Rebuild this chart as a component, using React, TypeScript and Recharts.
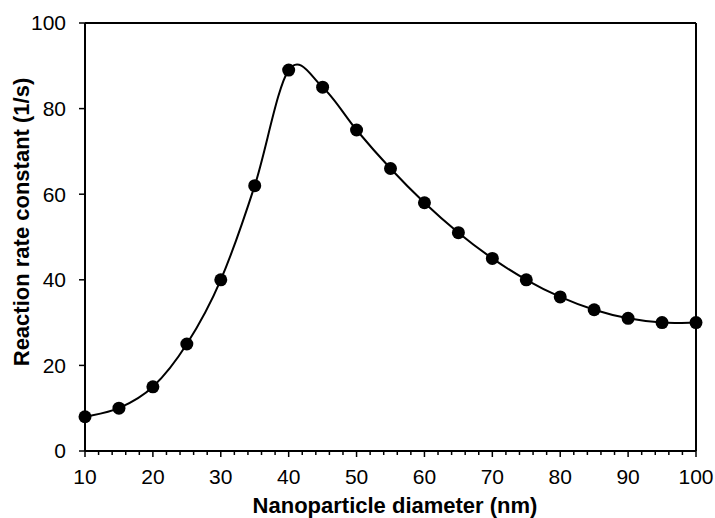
import React from 'react';
import { LineChart, Line, XAxis, YAxis, ReferenceLine, Label } from 'recharts';

const diameters = [10, 15, 20, 25, 30, 35, 40, 45, 50, 55, 60, 65, 70, 75, 80, 85, 90, 95, 100];
const rates = [8, 10, 15, 25, 40, 62, 89, 85, 75, 66, 58, 51, 45, 40, 36, 33, 31, 30, 30];
const xTicks = [10, 12, 14, 16, 18, 20, 22, 24, 26, 28, 30, 32, 34, 36, 38, 40, 42, 44, 46, 48, 50, 52, 54, 56, 58, 60, 62, 64, 66, 68, 70, 72, 74, 76, 78, 80, 82, 84, 86, 88, 90, 92, 94, 96, 98, 100];
const yTicks = [0, 20, 40, 60, 80, 100];
const xTitle = 'Nanoparticle diameter (nm)';
const yTitle = 'Reaction rate constant (1/s)';

const data = diameters.map((d, i) => ({ d, k: rates[i] }));

const FONT = '"Liberation Sans", Arial, sans-serif';

// Excel-like smoothing (Catmull-Rom via cubic Bezier)
const excelSmooth: any = (context: any) => {
  let pts: number[][] = [];
  return {
    areaStart() {},
    areaEnd() {},
    lineStart() { pts = []; },
    point(x: number, y: number) { pts.push([+x, +y]); },
    lineEnd() {
      const n = pts.length;
      if (!n) return;
      context.moveTo(pts[0][0], pts[0][1]);
      for (let i = 0; i < n - 1; i++) {
        const p0 = pts[i - 1] || pts[i];
        const p1 = pts[i];
        const p2 = pts[i + 1];
        const p3 = pts[i + 2] || p2;
        context.bezierCurveTo(
          p1[0] + (p2[0] - p0[0]) / 6, p1[1] + (p2[1] - p0[1]) / 6,
          p2[0] - (p3[0] - p1[0]) / 6, p2[1] - (p3[1] - p1[1]) / 6,
          p2[0], p2[1]
        );
      }
    },
  };
};

const XTick = (props: any) => {
  const { x, y, payload } = props;
  const v = payload.value;
  const major = v % 10 === 0;
  return (
    <g>
      <line x1={x} x2={x} y1={y} y2={y + (major ? 6 : 4)} stroke="#000" strokeWidth={1.5} />
      {major && (
        <text x={x} y={y + 33} textAnchor="middle" fontSize={21} fill="#000" fontFamily={FONT}>{v}</text>
      )}
    </g>
  );
};

export default function App() {
  return (
    <div style={{ position: 'absolute', left: 0, top: 0, width: 715, height: 518, background: '#fff' }}>
      <LineChart width={715} height={518} data={data} margin={{ top: 23, right: 19, bottom: 0, left: 0 }}>
        <XAxis
          dataKey="d"
          type="number"
          domain={[10, 100]}
          ticks={xTicks}
          interval={0}
          tickSize={0}
          tickMargin={0}
          tick={<XTick />}
          height={67}
          axisLine={{ stroke: '#000', strokeWidth: 2 }}
        >
          <Label
            content={() => (
              <text x={395} y={513} textAnchor="middle" fontSize={22} fontWeight="bold" fill="#000" fontFamily={FONT}>{xTitle}</text>
            )}
          />
        </XAxis>
        <YAxis
          type="number"
          domain={[0, 100]}
          ticks={yTicks}
          interval={0}
          width={85}
          tickSize={6}
          tickMargin={13}
          tick={{ fill: '#000', fontSize: 21, fontFamily: FONT }}
          tickLine={{ stroke: '#000', strokeWidth: 1.5 }}
          axisLine={{ stroke: '#000', strokeWidth: 2 }}
        >
          <Label
            content={() => (
              <text x={29} y={222} transform="rotate(-90 29 222)" textAnchor="middle" fontSize={22} fontWeight="bold" fill="#000" fontFamily={FONT}>{yTitle}</text>
            )}
          />
        </YAxis>
        <ReferenceLine y={100} stroke="#000" strokeWidth={2} ifOverflow="visible" />
        <ReferenceLine x={100} stroke="#000" strokeWidth={2} ifOverflow="visible" />
        <Line
          dataKey="k"
          type={excelSmooth}
          stroke="#000"
          strokeWidth={2}
          dot={{ r: 6.5, fill: '#000', stroke: '#000', strokeWidth: 0 }}
          isAnimationActive={false}
        />
      </LineChart>
    </div>
  );
}
